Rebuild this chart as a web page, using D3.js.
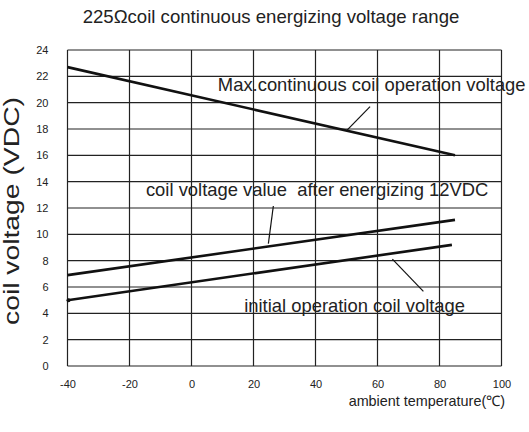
<!DOCTYPE html>
<html>
<head>
<meta charset="utf-8">
<script src="https://cdn.jsdelivr.net/npm/d3@7"></script>
<style>
  body { margin: 0; background: #fff; }
  text { font-family: "Liberation Sans", Arial, sans-serif; fill: #222; }
</style>
</head>
<body>
<div id="chart"></div>
<script>
// axis ticks
var xTicks = [-40, -20, 0, 20, 40, 60, 80, 100];
var yTicks = [0, 2, 4, 6, 8, 10, 12, 14, 16, 18, 20, 22, 24];

// series: [temperature, voltage]
var maxVoltage = [[-40, 22.7], [85, 16.0]];
var afterEnergizing = [[-40, 6.9], [85, 11.1]];
var initialVoltage = [[-40, 5.0], [84, 9.2]];

// annotation labels and their leader lines (data coords)
var labelNames = ["Max.continuous coil operation voltage",
  "coil voltage value  after energizing 12VDC",
  "initial operation coil voltage"];
var labelAt = [[8.5, 20.9], [-14.7, 12.9], [17, 4.1]];
var leaderFrom = [[57.6, 19.7], [26.4, 12.15], [64.8, 8.12]];
var leaderTo = [[50.1, 17.9], [24.8, 9.3], [74.8, 5.67]];

var width = 529, height = 432;
var svg = d3.select("#chart").append("svg")
  .attr("width", width)
  .attr("height", height);

var x = d3.scaleLinear().domain([-40, 100]).range([67.5, 501.5]);
var y = d3.scaleLinear().domain([0, 24]).range([366, 50]);

// grid
svg.append("g")
  .selectAll("line")
  .data(xTicks)
  .enter().append("line")
    .attr("x1", function(d) { return x(d); })
    .attr("x2", function(d) { return x(d); })
    .attr("y1", y(0))
    .attr("y2", y(24))
    .attr("stroke", "#222")
    .attr("stroke-width", 1.2);

svg.append("g")
  .selectAll("line")
  .data(yTicks)
  .enter().append("line")
    .attr("x1", x(-40))
    .attr("x2", x(100))
    .attr("y1", function(d) { return y(d); })
    .attr("y2", function(d) { return y(d); })
    .attr("stroke", "#222")
    .attr("stroke-width", 1.2);

// tick labels (plain hyphen for negatives, like the original)
var fmt = function(d) { return String(d); };
var xAxis = svg.append("g")
  .attr("transform", "translate(0," + y(0) + ")")
  .call(d3.axisBottom(x).tickValues(xTicks).tickFormat(fmt).tickSize(0).tickPadding(14));
var yAxis = svg.append("g")
  .attr("transform", "translate(" + x(-40) + ",0)")
  .call(d3.axisLeft(y).tickValues(yTicks).tickFormat(fmt).tickSize(0).tickPadding(19));
[xAxis, yAxis].forEach(function(a) {
  a.select(".domain").remove();
  a.selectAll("text")
    .style("font-family", "'Liberation Sans', Arial, sans-serif")
    .style("font-size", "11px")
    .attr("fill", "#333");
});

// series lines
var line = d3.line()
  .x(function(d) { return x(d[0]); })
  .y(function(d) { return y(d[1]); });

svg.append("g")
  .selectAll("path")
  .data([maxVoltage, afterEnergizing, initialVoltage])
  .enter().append("path")
    .attr("d", line)
    .attr("fill", "none")
    .attr("stroke", "#111")
    .attr("stroke-width", 2.6);

svg.append("circle")
  .attr("cx", x(initialVoltage[0][0]) + 1)
  .attr("cy", y(initialVoltage[0][1]))
  .attr("r", 2)
  .attr("fill", "#111");

// leader lines
svg.append("g")
  .selectAll("line")
  .data(leaderFrom)
  .enter().append("line")
    .attr("x1", function(d) { return x(d[0]); })
    .attr("y1", function(d) { return y(d[1]); })
    .attr("x2", function(d, i) { return x(leaderTo[i][0]); })
    .attr("y2", function(d, i) { return y(leaderTo[i][1]); })
    .attr("stroke", "#111")
    .attr("stroke-width", 1.2);

// annotation labels
svg.append("g")
  .selectAll("text")
  .data(labelNames)
  .enter().append("text")
    .attr("x", function(d, i) { return x(labelAt[i][0]); })
    .attr("y", function(d, i) { return y(labelAt[i][1]); })
    .style("font-size", "18.4px")
    .style("white-space", "pre")
    .text(function(d) { return d; });

// title
svg.append("text")
  .attr("x", 271)
  .attr("y", 23)
  .attr("text-anchor", "middle")
  .style("font-size", "18.6px")
  .text("225\u03A9coil continuous energizing voltage range");

// axis titles (y title is stretched along its length in the original)
svg.append("text")
  .attr("transform", "translate(19,211) rotate(-90)")
  .attr("text-anchor", "middle")
  .attr("textLength", 228)
  .attr("lengthAdjust", "spacingAndGlyphs")
  .style("font-size", "22px")
  .text("coil voltage (VDC)");

svg.append("text")
  .attr("x", 505)
  .attr("y", 406)
  .attr("text-anchor", "end")
  .style("font-size", "14.4px")
  .text("ambient temperature(\u2103)");
</script>
</body>
</html>
